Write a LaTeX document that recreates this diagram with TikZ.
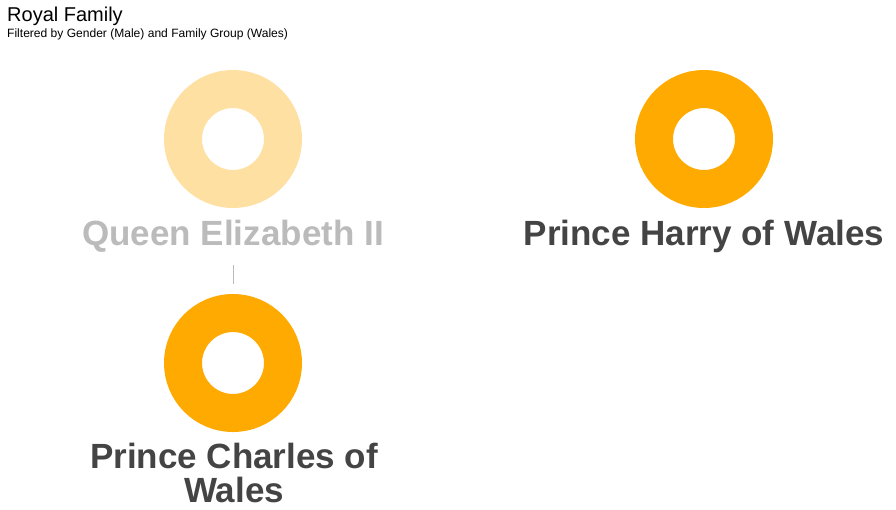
\documentclass[tikz,border=0pt]{standalone}
\usepackage{fontspec}
\setmainfont{Liberation Sans}
\definecolor{ringlight}{HTML}{FFE0A3}
\definecolor{ringdark}{HTML}{FFAA00}
\definecolor{textdark}{HTML}{444444}
\definecolor{textgray}{HTML}{BBBBBB}
\begin{document}
\begin{tikzpicture}[x=1pt,y=-1pt,
  ring/.style={circle,draw=#1,line width=38pt,minimum size=100pt,inner sep=0pt,outer sep=0pt},
  bigname/.style={anchor=base,inner sep=0pt,font=\fontsize{35}{34}\selectfont\bfseries,align=center},
  titletext/.style={anchor=base west,inner sep=0pt,font=\fontsize{20}{24}\selectfont},
  subtext/.style={anchor=base west,inner sep=0pt,font=\fontsize{12.05}{14}\selectfont}]
\useasboundingbox[fill=white] (0,0) rectangle (896,509);
\node[titletext] (title) at (7,21) {Royal Family};
\node[subtext] (subtitle) at (7,37) {Filtered by Gender (Male) and Family Group (Wales)};
\node[ring=ringlight] (queen) at (233,139) {};
\node[bigname,text=textgray] (queenlabel) at (233,245) {Queen Elizabeth II};
\node[ring=ringdark] (harry) at (704,139) {};
\node[bigname,text=textdark] (harrylabel) at (704,245) {Prince Harry of Wales};
\node[ring=ringdark] (charles) at (233,363) {};
\node[bigname,text=textdark] (charleslabel) at (234,502) {Prince Charles of\\Wales};
\coordinate (linktop) at (233,265);
\coordinate (linkbot) at (233,284);
\draw[textgray,line width=1pt] (linktop) -- (linkbot);
\end{tikzpicture}
\end{document}
